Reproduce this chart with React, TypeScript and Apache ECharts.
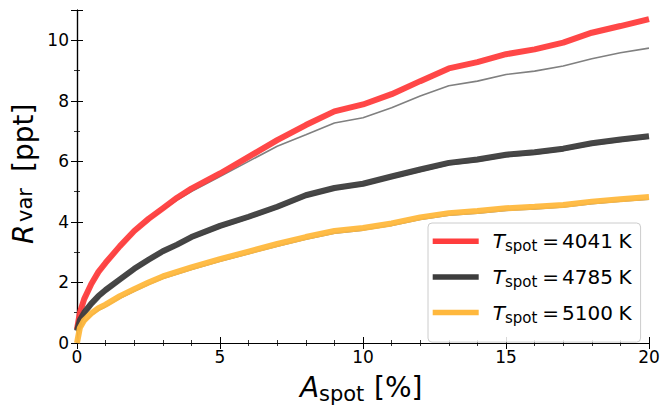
import React, { useEffect, useRef } from "react";
import * as echarts from "echarts";

const xs = [0, 0.1, 0.25, 0.5, 0.75, 1, 1.5, 2, 2.5, 3, 3.5, 4, 5, 6, 7, 8, 9, 10, 11, 12, 13, 14, 15, 16, 17, 18, 19, 20];

const red4041 = [0.45, 1.0, 1.45, 1.95, 2.35, 2.65, 3.2, 3.7, 4.1, 4.45, 4.8, 5.1, 5.6, 6.15, 6.7, 7.2, 7.65, 7.88, 8.22, 8.65, 9.07, 9.28, 9.54, 9.7, 9.92, 10.25, 10.47, 10.7];
const gray4041 = [0.4, 0.95, 1.4, 1.9, 2.3, 2.6, 3.15, 3.65, 4.05, 4.4, 4.72, 5.0, 5.5, 6.0, 6.5, 6.88, 7.27, 7.44, 7.77, 8.16, 8.5, 8.65, 8.87, 8.98, 9.15, 9.39, 9.59, 9.74];
const dark4785 = [0.4, 0.75, 1.0, 1.3, 1.55, 1.75, 2.1, 2.45, 2.75, 3.03, 3.25, 3.5, 3.87, 4.17, 4.5, 4.88, 5.12, 5.26, 5.5, 5.73, 5.95, 6.06, 6.22, 6.3, 6.42, 6.6, 6.72, 6.83];
const gray4785 = [0.36, 0.71, 0.95, 1.25, 1.5, 1.7, 2.05, 2.4, 2.7, 2.98, 3.2, 3.44, 3.81, 4.11, 4.44, 4.82, 5.06, 5.2, 5.44, 5.67, 5.89, 6.0, 6.16, 6.24, 6.36, 6.54, 6.66, 6.77];
const orange5100 = [0.0, 0.5, 0.75, 0.98, 1.15, 1.27, 1.55, 1.78, 2.0, 2.2, 2.35, 2.5, 2.77, 3.02, 3.27, 3.5, 3.7, 3.8, 3.95, 4.15, 4.29, 4.36, 4.45, 4.5, 4.56, 4.67, 4.75, 4.82];
const gray5100 = [0.0, 0.44, 0.68, 0.91, 1.08, 1.2, 1.48, 1.71, 1.93, 2.13, 2.28, 2.43, 2.7, 2.95, 3.2, 3.43, 3.63, 3.73, 3.88, 4.08, 4.22, 4.29, 4.38, 4.43, 4.49, 4.6, 4.68, 4.75];

const legendNames = ["4041", "4785", "5100"];
const xTicks = [0, 5, 10, 15, 20];
const yTicks = [0, 2, 4, 6, 8, 10];

const pair = (ys: number[]) => xs.map((x, i) => [x, ys[i]]);

export default function App() {
  const ref = useRef<HTMLDivElement>(null);
  useEffect(() => {
    const chart = echarts.init(ref.current!, null, { renderer: "svg" });
    const font = "DejaVu Sans";
    const axisLine = { show: true, lineStyle: { color: "#000", width: 1.2 } };
    const axisTick = { show: true, inside: true, length: 6, lineStyle: { color: "#000", width: 1 } };
    const minor = (n: number) => ({ show: true, splitNumber: n, length: 3, lineStyle: { color: "#000", width: 0.8 } });
    const thin = (name: string, data: number[]) => ({
      name,
      type: "line",
      data: pair(data),
      symbol: "none",
      z: 1,
      lineStyle: { color: "#808080", width: 1.6 },
    });
    const thick = (name: string, data: number[], color: string) => ({
      name,
      type: "line",
      data: pair(data),
      symbol: "none",
      z: 2,
      itemStyle: { color },
      lineStyle: { color, width: 6, opacity: 0.95 },
    });
    const big = `28px "${font}"`;
    const bigIt = `italic 28px "${font}"`;
    const sub = `21px "${font}"`;
    const txt = (text: string, f: string, x: number, y: number, rot = 0) => ({
      type: "text",
      x,
      y,
      rotation: rot,
      silent: true,
      style: { text, font: f, fill: "#000", textAlign: "left", textVerticalAlign: "middle" },
    });
    const R = Math.PI / 2;
    chart.setOption({
      animation: false,
      textStyle: { fontFamily: font },
      grid: { left: 77, right: 12, top: 10, bottom: 65, outerBoundsMode: "none" },
      xAxis: [
        {
          type: "value",
          min: 0,
          max: 20,
          interval: 5,
          axisLine,
          axisTick,
          minorTick: minor(5),
          splitLine: { show: false },
          axisLabel: { color: "#000", fontSize: 17, margin: 5, fontFamily: font, formatter: (v: number) => (xTicks.includes(v) ? String(v) : "") },
        },
        {
          type: "value",
          position: "top",
          min: 0,
          max: 20,
          interval: 5,
          axisLine,
          axisTick,
          minorTick: minor(5),
          splitLine: { show: false },
          axisLabel: { show: false },
        },
      ],
      yAxis: [
        {
          type: "value",
          min: 0,
          max: 11,
          interval: 2,
          axisLine,
          axisTick,
          minorTick: minor(2),
          splitLine: { show: false },
          axisLabel: { color: "#000", fontSize: 17, margin: 8, fontFamily: font, formatter: (v: number) => (yTicks.includes(v) ? String(v) : "") },
        },
        {
          type: "value",
          position: "right",
          min: 0,
          max: 11,
          interval: 2,
          axisLine,
          axisTick,
          minorTick: minor(2),
          splitLine: { show: false },
          axisLabel: { show: false },
        },
      ],
      legend: {
        data: legendNames,
        orient: "vertical",
        left: 428,
        top: 223,
        padding: [5.7, 9, 17, 4.7],
        itemGap: 10.7,
        itemWidth: 46,
        itemHeight: 5.5,
        icon: "rect",
        backgroundColor: "rgba(255,255,255,0.85)",
        borderColor: "#cccccc",
        borderWidth: 1,
        borderRadius: 4,
        formatter: (n: string) => `{i|T}{s|spot}{e|=}{n|${n}}{k|K}`,
        textStyle: {
          rich: {
            i: { fontFamily: font, fontStyle: "italic", fontSize: 20, lineHeight: 24, color: "#000", padding: [0, 0, 0, 9] },
            s: { fontFamily: font, fontSize: 15, lineHeight: 14, color: "#000", padding: [10, 0, 0, 0] },
            e: { fontFamily: font, fontSize: 20, lineHeight: 24, color: "#000", padding: [0, 3, 0, 5] },
            n: { fontFamily: font, fontSize: 20, lineHeight: 24, color: "#000" },
            k: { fontFamily: font, fontSize: 20, lineHeight: 24, color: "#000", padding: [0, 0, 0, 5.5] },
          },
        },
      },
      graphic: [
        txt("A", bigIt, 300, 387.6),
        txt("spot", sub, 319, 393.5),
        txt("[%]", big, 374, 387.6),
        txt("R", bigIt, 23.8, 244, R),
        txt("var", sub, 25, 222, R),
        txt("[ppt]", big, 23.8, 172, R),
      ],
      series: [
        thin("g4041", gray4041),
        thin("g4785", gray4785),
        thin("g5100", gray5100),
        thick("4041", red4041, "#ff3d3d"),
        thick("4785", dark4785, "#3d3d3d"),
        thick("5100", orange5100, "#ffb83d"),
      ],
    });
    return () => chart.dispose();
  }, []);
  return <div ref={ref} style={{ width: 661, height: 408, position: "absolute", left: 0, top: 0 }} />;
}
